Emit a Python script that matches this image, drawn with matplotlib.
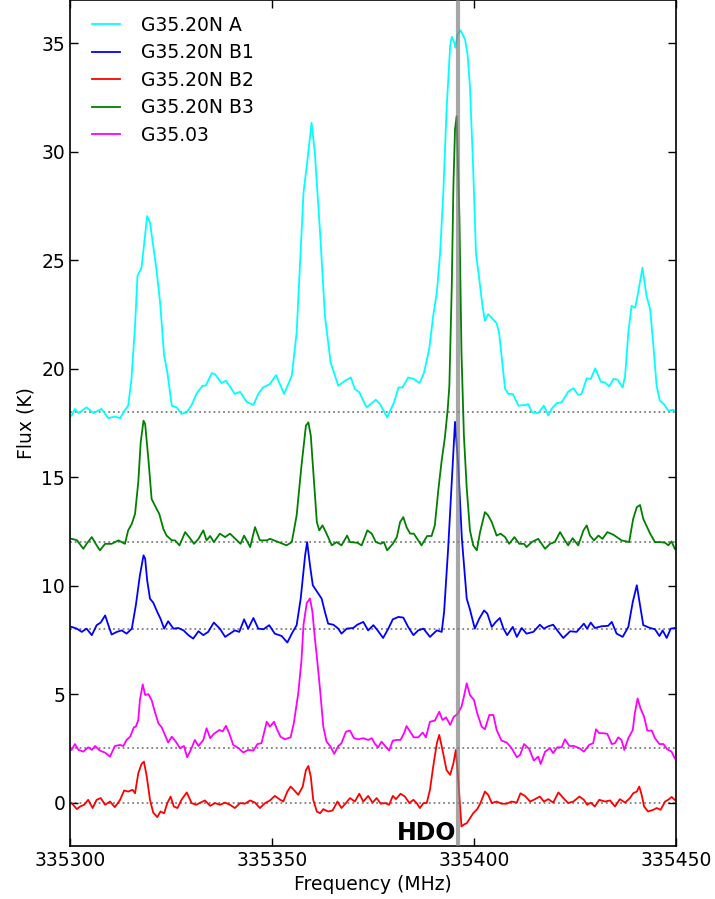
import numpy as np
import matplotlib
matplotlib.use('Agg')
import matplotlib.pyplot as plt
from matplotlib.ticker import FormatStrFormatter


# Frequency offsets are in MHz above 335300 MHz, flux in K (with offsets already added)
base_freq = 335300

# G35.20N A (cyan)
off_a = [0.4, 1.2, 2.1, 4.1, 5.8, 7.8, 9.5, 11.1, 12.4, 13.6, 14.4, 15.2, 16.1, 16.7, 17.7, 19.1, 19.8,
         21.4, 22.3, 23.3, 24.1, 25.2, 26.4, 27.6, 28.9, 30.1, 31.3, 32.8, 33.6, 35.1, 35.9, 37.5, 38.6,
         40.8, 42.1, 43.7, 45.4, 46.6, 47.8, 49.5, 51.0, 53.0, 54.9, 56.1, 56.9, 57.8, 58.6, 59.8, 60.6,
         61.9, 63.1, 64.5, 66.4, 68.1, 69.5, 70.5, 71.6, 73.4, 75.7, 76.7, 78.5, 80.2, 81.3, 82.3, 83.7,
         85.1, 86.5, 87.6, 88.9, 89.9, 90.8, 91.6, 92.4, 93.2, 94.1, 94.5, 95.0, 95.4, 95.9, 96.7, 97.8,
         98.4, 99.0, 99.8, 100.5, 101.1, 102.1, 102.7, 103.5, 105.6, 106.2, 106.9, 107.7, 108.5, 109.6,
         111.0, 112.6, 113.4, 114.4, 115.9, 117.3, 118.4, 119.2, 120.5, 121.7, 123.3, 124.6, 125.8, 126.6,
         127.9, 128.9, 130.0, 131.4, 132.4, 133.5, 134.5, 135.5, 136.8, 137.4, 138.2, 139.0, 139.9, 140.4,
         141.7, 142.7, 143.6, 144.4, 145.2, 146.0, 147.0, 148.1, 149.3, 150.0]
flux_a = [17.84, 18.15, 17.96, 18.22, 17.96, 18.15, 17.72, 17.8, 17.72, 18.1, 18.3, 19.5, 21.98, 24.28,
          24.66, 27.04, 26.74, 24.59, 23.06, 20.6, 19.83, 18.3, 18.22, 17.92, 18.0, 18.33, 18.84, 19.22,
          19.22, 19.8, 19.75, 19.34, 19.45, 18.84, 18.94, 18.48, 18.33, 18.84, 19.14, 19.3, 19.71, 18.84,
          19.68, 21.67, 24.74, 28.12, 29.34, 31.34, 29.96, 26.28, 22.44, 20.3, 19.22, 19.45, 19.6, 19.07,
          18.92, 18.22, 18.57, 18.38, 17.76, 18.45, 19.14, 19.14, 19.6, 19.53, 19.34, 19.8, 20.9, 22.44,
          23.52, 25.3, 28.1, 31.9, 34.9, 35.3, 35.1, 34.8, 35.4, 35.6, 35.17, 34.5, 33.0, 29.2, 25.3,
          24.44, 22.9, 22.21, 22.52, 22.1, 21.67, 20.45, 19.07, 18.84, 18.84, 18.3, 18.33, 18.37, 17.99,
          17.96, 18.3, 17.84, 18.15, 18.42, 18.45, 18.94, 19.1, 18.79, 18.84, 19.56, 19.53, 20.02, 19.4,
          19.37, 19.19, 19.53, 19.5, 19.14, 19.68, 21.67, 22.9, 22.82, 23.28, 24.66, 23.36, 22.75, 21.06,
          19.22, 18.53, 18.37, 18.07, 18.11, 18.0]

# G35.20N B1 (blue)
off_b1 = [0.4, 1.7, 2.9, 4.1, 5.4, 6.6, 7.6, 8.7, 9.5, 10.3, 11.6, 12.8, 14.0, 15.3, 16.3, 17.3, 18.2,
          18.6, 19.1, 19.8, 20.6, 21.6, 22.4, 23.3, 24.3, 25.6, 26.8, 28.1, 29.3, 30.5, 31.8, 33.0, 34.2,
          35.6, 37.1, 38.4, 39.6, 40.8, 41.9, 43.1, 44.1, 45.4, 46.6, 47.9, 49.3, 50.7, 52.4, 53.8, 54.9,
          56.1, 57.1, 58.2, 58.7, 59.4, 60.1, 61.1, 62.3, 63.1, 63.9, 65.2, 66.4, 67.2, 68.5, 70.1, 71.1,
          72.6, 73.8, 75.1, 76.3, 77.5, 78.8, 79.9, 81.3, 82.5, 83.7, 85.0, 86.2, 87.5, 89.1, 90.8, 92.0,
          92.6, 93.6, 94.5, 95.3, 96.1, 97.0, 98.2, 99.0, 100.2, 101.3, 102.5, 103.3, 104.4, 105.4, 106.4,
          107.3, 108.2, 109.6, 110.6, 111.8, 113.0, 114.7, 116.3, 117.3, 118.4, 119.6, 120.9, 122.1, 123.8,
          125.4, 127.2, 128.0, 128.9, 129.9, 131.6, 133.2, 134.1, 135.3, 136.8, 138.2, 139.3, 140.3, 141.1,
          141.9, 143.6, 144.8, 145.9, 146.7, 147.7, 148.7, 149.7]
flux_b1 = [8.1, 8.02, 7.87, 8.02, 7.72, 8.18, 8.3, 8.63, 8.18, 7.75, 7.87, 7.94, 7.79, 8.02, 9.1, 10.48,
           11.4, 11.25, 10.25, 9.4, 9.22, 8.79, 8.48, 8.02, 8.36, 8.02, 8.05, 7.94, 7.72, 7.56, 7.9, 7.72,
           7.87, 8.3, 8.02, 7.64, 7.79, 7.94, 7.87, 8.45, 8.02, 8.51, 8.02, 7.99, 8.18, 7.79, 7.68, 7.38,
           7.79, 8.18, 9.4, 11.4, 12.01, 10.94, 10.02, 9.74, 9.4, 8.79, 8.25, 8.2, 8.02, 7.79, 8.02, 8.05,
           8.2, 8.33, 7.94, 8.18, 7.9, 7.59, 8.02, 8.45, 8.56, 8.53, 8.1, 7.72, 7.94, 8.02, 7.64, 7.94,
           7.87, 8.79, 11.71, 14.77, 17.55, 15.54, 12.16, 9.4, 8.9, 8.02, 8.48, 8.86, 8.71, 8.1, 8.33, 8.51,
           8.02, 7.72, 8.1, 7.64, 8.05, 7.79, 7.87, 8.2, 8.02, 8.13, 8.2, 7.87, 7.59, 7.9, 7.87, 8.25, 8.02,
           8.3, 8.05, 8.13, 8.15, 8.33, 7.79, 7.64, 8.1, 9.25, 10.02, 9.1, 8.18, 8.05, 7.99, 7.68, 7.94,
           7.59, 8.02, 8.05]

# G35.20N B2 (red)
off_b2 = [0.4, 1.7, 2.5, 3.5, 4.5, 5.6, 6.6, 7.6, 8.7, 9.9, 11.1, 12.4, 13.4, 14.4, 15.5, 16.1, 16.9,
          17.7, 18.3, 19.0, 19.8, 20.6, 21.6, 22.4, 23.3, 24.1, 24.9, 25.7, 26.6, 27.6, 28.9, 30.1, 31.2,
          32.3, 33.4, 34.7, 35.9, 37.1, 38.4, 39.6, 40.8, 42.1, 43.3, 44.6, 45.8, 47.0, 48.3, 49.5, 50.7,
          51.8, 52.8, 53.8, 54.6, 55.4, 56.5, 57.6, 58.4, 59.0, 59.6, 60.2, 61.1, 61.9, 62.7, 63.9, 65.0,
          66.2, 67.2, 68.3, 69.3, 70.5, 71.6, 72.6, 73.8, 74.9, 75.9, 76.9, 78.0, 79.0, 79.9, 80.7, 81.8,
          82.9, 84.0, 85.0, 85.8, 86.6, 87.5, 88.3, 89.1, 89.9, 90.8, 91.4, 92.2, 93.2, 94.1, 94.9, 95.5,
          96.1, 96.9, 97.6, 98.2, 99.0, 99.8, 100.8, 101.6, 102.7, 103.5, 104.4, 105.6, 106.8, 108.1,
          109.3, 110.6, 111.5, 112.6, 113.9, 115.1, 116.3, 117.3, 118.4, 119.6, 120.9, 122.1, 123.3, 124.6,
          126.1, 127.2, 128.0, 128.9, 129.9, 131.0, 132.4, 133.7, 134.9, 136.1, 137.4, 138.6, 139.4, 140.3,
          140.9, 141.5, 142.1, 143.1, 144.4, 145.2, 146.2, 147.3, 148.3, 148.9, 149.7]
flux_b2 = [-0.02, -0.3, -0.18, -0.1, 0.13, -0.25, 0.13, 0.21, -0.1, 0.05, -0.21, 0.13, 0.56, 0.51, 0.59,
           0.43, 1.35, 1.78, 1.89, 1.2, 0.13, -0.46, -0.67, -0.41, -0.49, -0.02, 0.28, -0.18, -0.25, 0.13,
           0.47, -0.02, -0.1, 0.0, 0.1, -0.15, -0.02, -0.1, 0.0, -0.1, -0.25, -0.02, -0.05, 0.1, 0.0,
           -0.25, -0.02, 0.1, 0.31, 0.16, 0.05, 0.51, 0.74, 0.59, 0.36, 0.74, 1.5, 1.69, 1.2, 0.13, -0.41,
           -0.49, -0.3, -0.41, -0.36, 0.05, -0.25, -0.02, 0.21, 0.05, 0.41, 0.05, 0.31, 0.0, 0.21, -0.05,
           -0.02, -0.1, 0.31, 0.16, 0.41, 0.28, -0.02, 0.13, -0.02, -0.25, -0.02, -0.02, 0.59, 1.66, 2.74,
           3.12, 2.43, 1.5, 1.28, 1.81, 2.43, 1.05, -1.1, -1.0, -0.95, -0.72, -0.49, -0.3, -0.02, 0.51,
           0.36, -0.02, 0.05, -0.05, -0.05, 0.05, 0.0, 0.43, 0.31, 0.05, 0.16, 0.28, 0.05, 0.16, 0.0, 0.47,
           0.21, -0.02, 0.05, 0.28, 0.13, -0.1, 0.0, -0.18, 0.13, 0.05, 0.1, -0.18, 0.16, 0.0, 0.21, 0.43,
           0.51, 0.74, 0.36, -0.18, -0.41, -0.33, -0.25, -0.33, 0.05, 0.16, 0.26, 0.13]

# G35.20N B3 (green)
off_b3 = [0.4, 1.7, 3.3, 4.1, 5.4, 6.6, 7.4, 8.7, 10.3, 12.0, 13.6, 14.4, 15.3, 16.1, 16.9, 17.5, 18.2,
          18.6, 19.4, 20.2, 21.0, 22.1, 23.1, 23.9, 25.2, 26.0, 27.1, 28.5, 29.5, 30.7, 31.8, 33.0, 33.8,
          34.7, 35.6, 37.1, 38.4, 39.6, 41.3, 42.2, 43.1, 44.6, 45.8, 47.0, 48.7, 49.5, 51.2, 53.6, 54.9,
          56.1, 57.3, 58.4, 59.0, 59.6, 60.4, 61.1, 61.7, 62.5, 63.5, 64.8, 66.0, 67.2, 68.6, 69.3, 71.1,
          72.2, 73.6, 74.7, 75.7, 76.9, 77.7, 78.5, 79.9, 80.9, 81.7, 82.5, 83.3, 84.2, 85.1, 87.0, 88.4,
          89.5, 90.3, 91.2, 92.0, 92.8, 93.5, 93.9, 94.5, 94.9, 95.3, 95.7, 96.4, 96.9, 97.5, 98.2, 99.0,
          99.8, 100.7, 101.5, 102.7, 103.5, 104.4, 105.6, 106.6, 107.7, 108.7, 110.0, 111.2, 112.4, 113.0,
          114.3, 115.9, 117.6, 118.8, 120.0, 121.3, 122.5, 123.3, 124.4, 125.8, 127.1, 127.9, 128.7, 129.7,
          130.8, 131.8, 133.0, 134.5, 136.5, 138.4, 139.4, 140.3, 141.1, 141.9, 143.6, 144.8, 146.0, 147.3,
          148.1, 148.9, 149.7]
flux_b3 = [12.16, 12.1, 11.7, 11.93, 12.24, 11.86, 11.63, 11.93, 11.93, 12.09, 11.93, 12.55, 12.85, 13.31,
           14.77, 16.61, 17.61, 17.45, 15.84, 14.0, 13.7, 13.31, 12.62, 12.31, 12.09, 12.09, 11.86, 12.47,
           12.24, 11.93, 12.16, 12.55, 12.09, 12.29, 12.01, 12.4, 12.24, 12.4, 12.09, 11.93, 12.31, 11.78,
           12.7, 12.09, 12.09, 12.16, 12.04, 11.86, 12.01, 13.24, 15.54, 17.38, 17.53, 16.92, 14.77, 12.93,
           12.55, 12.78, 12.4, 11.86, 12.01, 11.86, 12.31, 12.01, 11.98, 11.86, 12.55, 12.4, 12.01, 11.93,
           12.01, 11.63, 11.93, 12.24, 12.93, 13.16, 12.7, 12.4, 12.4, 11.86, 12.29, 12.29, 12.78, 14.46,
           15.77, 16.84, 18.15, 19.22, 23.82, 28.42, 31.03, 31.64, 26.89, 20.75, 16.92, 14.5, 12.55, 11.86,
           11.63, 12.47, 13.39, 13.24, 12.93, 12.31, 12.4, 12.24, 11.93, 12.24, 11.93, 11.93, 11.78, 12.01,
           12.16, 11.7, 11.93, 12.01, 12.47, 12.09, 11.86, 12.19, 11.86, 12.55, 12.78, 12.31, 12.09, 12.31,
           12.16, 12.47, 12.35, 12.09, 12.01, 13.08, 13.62, 13.72, 13.08, 12.4, 12.01, 12.01, 11.98, 11.86,
           12.04, 11.7]

# G35.03 (magenta)
off_g = [0.4, 1.2, 2.1, 3.3, 4.5, 5.4, 6.2, 7.4, 8.7, 9.9, 11.1, 12.4, 13.2, 14.0, 14.9, 15.8, 16.3, 16.9,
         17.3, 18.0, 18.6, 19.4, 20.2, 21.0, 21.9, 22.7, 23.5, 24.3, 25.2, 26.2, 27.2, 28.2, 29.0, 29.9,
         30.9, 31.8, 33.0, 33.8, 34.7, 35.6, 37.0, 37.8, 38.6, 39.4, 40.4, 41.7, 42.9, 44.1, 45.4, 46.4,
         47.4, 48.7, 49.5, 50.5, 51.3, 52.1, 53.2, 54.6, 55.4, 56.5, 57.3, 57.8, 58.6, 59.4, 60.0, 60.6,
         61.1, 61.9, 62.7, 63.5, 64.5, 65.4, 66.4, 67.2, 68.3, 69.3, 70.3, 71.4, 72.6, 73.8, 74.7, 75.5,
         76.3, 77.1, 78.0, 79.0, 79.9, 80.9, 81.8, 82.7, 83.3, 84.2, 85.1, 86.2, 87.3, 88.1, 89.1, 90.3,
         91.4, 92.2, 93.1, 94.1, 95.0, 95.9, 96.9, 97.4, 98.2, 99.0, 100.0, 100.8, 101.9, 102.7, 103.8,
         104.8, 105.6, 106.8, 108.1, 109.3, 110.6, 111.4, 112.4, 113.7, 114.8, 115.9, 116.5, 117.6, 118.8,
         119.6, 120.6, 121.7, 122.5, 123.6, 124.7, 126.1, 127.2, 128.5, 129.5, 130.2, 131.0, 132.0, 133.0,
         134.1, 134.9, 135.7, 136.5, 137.2, 138.2, 139.3, 139.8, 140.5, 141.2, 142.1, 142.9, 144.0, 144.8,
         145.9, 146.9, 147.8, 148.9, 149.7]
flux_g = [2.43, 2.7, 2.43, 2.35, 2.55, 2.43, 2.61, 2.4, 2.3, 2.12, 2.61, 2.66, 2.61, 2.89, 3.04, 3.47, 3.5,
          3.81, 4.73, 5.45, 4.96, 5.0, 4.73, 4.19, 3.65, 3.47, 3.12, 2.77, 3.04, 2.81, 2.51, 2.61, 2.09,
          2.43, 2.89, 2.61, 2.89, 3.43, 2.97, 3.17, 3.35, 3.28, 3.54, 3.2, 2.66, 2.51, 2.31, 2.43, 2.4, 2.7,
          2.74, 3.73, 3.5, 3.73, 3.35, 3.04, 2.92, 3.01, 3.66, 5.04, 6.57, 8.2, 9.2, 9.41, 8.8, 7.6, 6.73,
          5.2, 3.5, 2.81, 2.58, 2.25, 2.61, 2.74, 3.27, 3.32, 2.97, 2.92, 2.97, 2.89, 2.97, 2.7, 2.55, 2.81,
          2.61, 2.4, 2.86, 2.89, 2.89, 3.2, 3.53, 3.27, 3.01, 3.01, 3.23, 3.01, 3.73, 3.78, 4.19, 3.81,
          3.93, 3.58, 3.96, 4.08, 4.42, 4.8, 5.5, 4.96, 4.73, 4.12, 3.5, 3.38, 4.04, 4.04, 3.35, 2.86, 2.77,
          2.51, 2.09, 2.2, 2.7, 2.46, 1.94, 2.12, 1.78, 2.35, 2.51, 2.28, 2.55, 2.55, 2.92, 2.61, 2.61,
          2.51, 2.35, 2.66, 2.74, 3.38, 3.2, 3.2, 3.17, 2.7, 2.74, 3.01, 2.89, 2.43, 2.97, 3.35, 4.12, 4.8,
          4.35, 3.96, 3.32, 3.32, 2.97, 2.7, 2.7, 2.46, 2.35, 2.04]

# Baselines (offsets of each spectrum) and HDO line position
baselines = [18, 12, 8, 2.5, 0]
hdo_freq = 335396

fig = plt.figure(figsize=(7.15, 8.99), dpi=100)
ax = fig.add_axes([70 / 715, 53 / 899, 606 / 715, 846 / 899])

# Dotted baselines
for b in baselines:
    ax.axhline(b, color='gray', linestyle=':', linewidth=1.3, zorder=1)

ax.plot(base_freq + np.array(off_a), flux_a, color='cyan', lw=1.3, label='G35.20N A')
ax.plot(base_freq + np.array(off_b1), flux_b1, color='blue', lw=1.3, label='G35.20N B1')
ax.plot(base_freq + np.array(off_b2), flux_b2, color='red', lw=1.3, label='G35.20N B2')
ax.plot(base_freq + np.array(off_b3), flux_b3, color='green', lw=1.3, label='G35.20N B3')
ax.plot(base_freq + np.array(off_g), flux_g, color='magenta', lw=1.3, label='G35.03')

# HDO line marker
ax.axvline(hdo_freq, color='gray', lw=3, alpha=0.7, zorder=3)
ax.text(hdo_freq - 0.4, -1.38, 'HDO', fontsize=17, fontweight='bold', ha='right', va='center')

ax.set_xlim(335300, 335450)
ax.set_ylim(-2, 37)
ax.set_xticks([335300, 335350, 335400, 335450])
ax.set_yticks(range(0, 36, 5))
ax.xaxis.set_major_formatter(FormatStrFormatter('%d'))
ax.tick_params(direction='in', length=6, width=1, top=True, right=True, labelsize=13.5)
for s in ax.spines.values():
    s.set_linewidth(1.2)

ax.set_xlabel('Frequency (MHz)', fontsize=13.5)
ax.set_ylabel('Flux (K)', fontsize=13.5)

ax.legend(loc='upper left', bbox_to_anchor=(0.024, 0.99), borderaxespad=0, frameon=False,
          fontsize=13.5, handlelength=1.5, handletextpad=1.1, labelspacing=0.45)

plt.savefig('out.png', dpi=100)
